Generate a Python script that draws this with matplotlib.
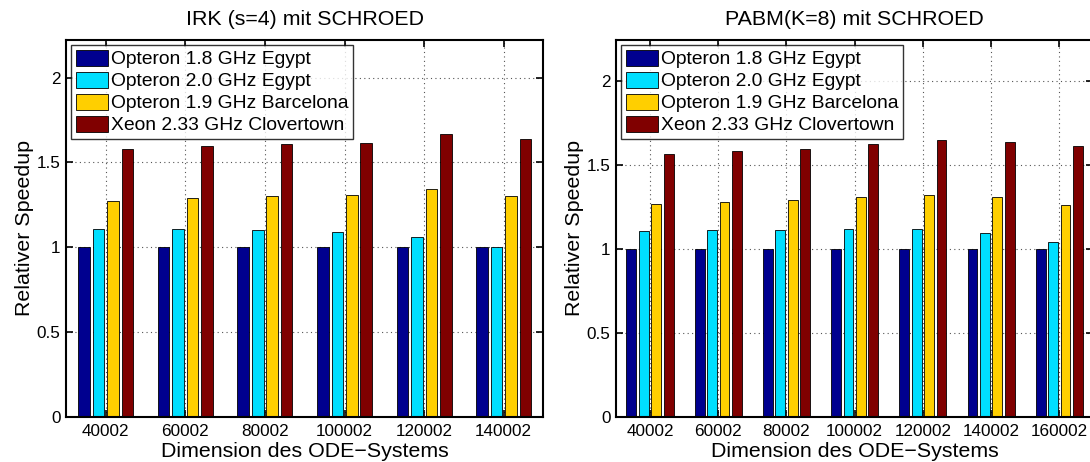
import numpy as np
import matplotlib
matplotlib.use("Agg")
import matplotlib.pyplot as plt

plt.rcParams['font.family'] = ['Liberation Sans', 'DejaVu Sans']

# --- data -------------------------------------------------------------
series_names = [
    "Opteron 1.8 GHz Egypt",
    "Opteron 2.0 GHz Egypt",
    "Opteron 1.9 GHz Barcelona",
    "Xeon 2.33 GHz Clovertown",
]

irk_dims = ["40002", "60002", "80002", "100002", "120002", "140002"]
irk_opt18 = [1.0, 1.0, 1.0, 1.0, 1.0, 1.0]
irk_opt20 = [1.106, 1.106, 1.104, 1.088, 1.061, 1.002]
irk_barc = [1.273, 1.291, 1.303, 1.306, 1.344, 1.303]
irk_xeon = [1.580, 1.599, 1.609, 1.615, 1.670, 1.637]

pabm_dims = ["40002", "60002", "80002", "100002", "120002", "140002", "160002"]
pabm_opt18 = [1.0, 1.0, 1.0, 1.0, 1.0, 1.0, 1.0]
pabm_opt20 = [1.107, 1.111, 1.113, 1.117, 1.121, 1.095, 1.043]
pabm_barc = [1.266, 1.282, 1.294, 1.308, 1.324, 1.312, 1.259]
pabm_xeon = [1.565, 1.584, 1.598, 1.624, 1.648, 1.637, 1.615]

yticks = [0, 0.5, 1, 1.5, 2]
ytick_labels = ["0", "0.5", "1", "1.5", "2"]

# --- style ------------------------------------------------------------
colors = ["#00008F", "#00DFFF", "#FFCF00", "#800000"]
TICK_FS = 12.3
LABEL_FS = 15.4
LEGEND_FS = 13.9

fig = plt.figure(figsize=(10.9, 4.62), dpi=100)
ax_left = fig.add_axes([0.0606, 0.098, 0.4380, 0.8155])
ax_right = fig.add_axes([0.5651, 0.098, 0.4380, 0.8155])


def draw_panel(ax, title, dims, series, ymax):
    n = len(series)
    x = np.arange(1, len(dims) + 1)
    group_w = min(0.8, n / (n + 1.5))
    bar_w = 0.8 * group_w / n
    handles = []
    for i, (vals, col) in enumerate(zip(series, colors)):
        off = -group_w / 2 + group_w / (2 * n) + i * group_w / n
        h = ax.bar(x + off, vals, bar_w, color=col, edgecolor="black",
                   linewidth=0.6, zorder=3)
        handles.append(h)

    ax.set_xlim(0.5, len(dims) + 0.5)
    ax.set_ylim(0, ymax)
    ax.set_xticks(x)
    ax.set_xticklabels(dims, fontsize=TICK_FS)
    ax.set_yticks(yticks)
    ax.set_yticklabels(ytick_labels, fontsize=TICK_FS)
    ax.tick_params(direction="in", length=5, width=1.2, top=True, right=True,
                   pad=4, colors="black")
    ax.tick_params(axis="x", pad=5)
    ax.grid(True, linestyle=(0, (1, 3)), color="#555555", linewidth=0.8,
            zorder=0)
    ax.set_axisbelow(True)
    for sp in ax.spines.values():
        sp.set_linewidth(1.5)
        sp.set_zorder(5)

    ax.set_title(title, fontsize=LABEL_FS, pad=10.5)
    ax.set_xlabel("Dimension des ODE\u2212Systems", fontsize=LABEL_FS,
                  labelpad=2.5)
    ax.set_ylabel("Relativer Speedup", fontsize=LABEL_FS, labelpad=1.7)

    leg = ax.legend(handles, series_names, loc="upper left",
                    fontsize=LEGEND_FS, frameon=True, fancybox=False,
                    borderaxespad=0.26, borderpad=0.25, handlelength=1.66,
                    handleheight=0.88, handletextpad=0.14, labelspacing=0.18)
    leg.get_frame().set_edgecolor("black")
    leg.get_frame().set_linewidth(1.0)


draw_panel(ax_left, "IRK (s=4) mit SCHROED", irk_dims,
           [irk_opt18, irk_opt20, irk_barc, irk_xeon], 2.222)
draw_panel(ax_right, "PABM(K=8) mit SCHROED", pabm_dims,
           [pabm_opt18, pabm_opt20, pabm_barc, pabm_xeon], 2.245)

fig.savefig("out.png", dpi=100, facecolor="white")
